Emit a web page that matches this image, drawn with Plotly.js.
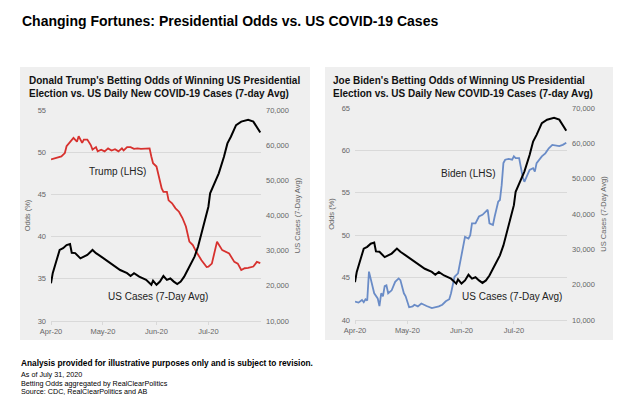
<!DOCTYPE html>
<html>
<head>
<meta charset="utf-8">
<script src="https://cdn.plot.ly/plotly-3.0.1.min.js"></script>
<style>
  html, body { margin: 0; padding: 0; background: #ffffff; }
  #chart { width: 624px; height: 396px; }
</style>
</head>
<body>
<div id="chart"></div>
<script>
// ---- Data ----
const trumpDates = ['2020-04-01','2020-04-04','2020-04-07','2020-04-09','2020-04-10','2020-04-14','2020-04-16','2020-04-17','2020-04-19','2020-04-20','2020-04-22','2020-04-24','2020-04-25','2020-04-27','2020-04-28','2020-04-30','2020-05-02','2020-05-04','2020-05-06','2020-05-08','2020-05-10','2020-05-12','2020-05-13','2020-05-15','2020-05-17','2020-05-19','2020-05-21','2020-05-23','2020-05-28','2020-05-29','2020-05-30','2020-06-01','2020-06-02','2020-06-04','2020-06-05','2020-06-07','2020-06-08','2020-06-10','2020-06-12','2020-06-14','2020-06-16','2020-06-18','2020-06-20','2020-06-22','2020-06-24','2020-06-27','2020-06-30','2020-07-01','2020-07-03','2020-07-05','2020-07-06','2020-07-09','2020-07-11','2020-07-13','2020-07-16','2020-07-18','2020-07-20','2020-07-22','2020-07-24','2020-07-27','2020-07-29','2020-07-31'];
const trumpOdds = [49.15,49.3,49.5,49.9,50.7,51.7,51.25,51.9,51.1,51.5,51.5,50.85,50.3,50.6,50.1,50.3,50.1,50.45,50.2,50.35,50.1,50.45,50.2,50.6,50.6,50.4,50.45,50.4,50.45,49.5,48.7,48.3,47.3,45.7,45.3,45.3,44.3,43.95,43.35,42.95,42.2,41.2,39.4,39.0,38.2,37.2,36.4,36.45,36.8,38.8,39.4,38.4,38.2,38.0,37.0,36.8,36.05,36.25,36.3,36.45,37.0,36.85];

const caseDates = ['2020-04-01','2020-04-02','2020-04-04','2020-04-06','2020-04-08','2020-04-10','2020-04-12','2020-04-13','2020-04-15','2020-04-18','2020-04-20','2020-04-22','2020-04-25','2020-04-27','2020-04-30','2020-05-04','2020-05-07','2020-05-11','2020-05-15','2020-05-17','2020-05-19','2020-05-22','2020-05-26','2020-05-29','2020-05-30','2020-06-01','2020-06-03','2020-06-05','2020-06-07','2020-06-09','2020-06-11','2020-06-13','2020-06-15','2020-06-17','2020-06-19','2020-06-21','2020-06-23','2020-06-25','2020-06-28','2020-07-01','2020-07-02','2020-07-04','2020-07-07','2020-07-10','2020-07-12','2020-07-14','2020-07-17','2020-07-20','2020-07-24','2020-07-27','2020-07-29','2020-07-31'];
const usCases = [20700,23600,26900,30200,30700,31600,31900,29400,29300,27800,28300,28800,30200,29300,28300,26900,25900,24500,23600,22800,23600,22600,21700,20300,21500,20300,21200,22800,21700,22100,21200,20500,21200,22600,24500,26200,28300,31100,36800,42500,46300,48700,52000,56700,60500,62400,65700,66700,67200,66700,65300,63600];

const bidenDates = ['2020-04-01','2020-04-03','2020-04-05','2020-04-06','2020-04-07','2020-04-08','2020-04-09','2020-04-10','2020-04-11','2020-04-12','2020-04-14','2020-04-15','2020-04-16','2020-04-17','2020-04-18','2020-04-19','2020-04-20','2020-04-22','2020-04-24','2020-04-26','2020-04-27','2020-04-29','2020-04-30','2020-05-02','2020-05-04','2020-05-05','2020-05-07','2020-05-09','2020-05-12','2020-05-15','2020-05-19','2020-05-21','2020-05-23','2020-05-25','2020-05-26','2020-05-28','2020-05-30','2020-06-01','2020-06-03','2020-06-05','2020-06-06','2020-06-07','2020-06-09','2020-06-11','2020-06-13','2020-06-15','2020-06-16','2020-06-17','2020-06-19','2020-06-20','2020-06-22','2020-06-23','2020-06-24','2020-06-25','2020-06-26','2020-06-28','2020-06-30','2020-07-01','2020-07-02','2020-07-04','2020-07-05','2020-07-06','2020-07-07','2020-07-08','2020-07-10','2020-07-12','2020-07-13','2020-07-14','2020-07-17','2020-07-19','2020-07-21','2020-07-23','2020-07-27','2020-07-29','2020-07-31'];
const bidenOdds = [42.16,42.05,42.36,42.1,42.44,42.3,45.7,44.9,43.9,43.15,42.55,41.65,43.15,42.8,44.0,44.1,43.15,43.5,44.5,44.9,44.7,43.15,42.8,41.5,41.6,41.8,41.6,41.95,41.65,41.4,41.6,41.8,42.2,42.45,43.15,45.1,45.5,47.5,49.8,49.6,50.0,51.4,51.4,52.2,52.4,52.8,53.0,51.4,51.2,52.2,53.95,54.15,55.9,58.5,58.9,59.0,58.9,59.3,59.1,59.1,57.9,56.9,56.3,56.7,57.7,57.9,57.5,58.5,59.3,59.65,60.25,60.65,60.5,60.65,60.9];

const xRange = ['2020-04-01', '2020-07-31 10:00'];
const FONT = 'Liberation Sans, Arial, sans-serif';
const tickFont = {family: FONT, size: 7.5, color: '#666666'};
const grid = '#d9d9d9';

const traces = [
  {x: caseDates, y: usCases, xaxis: 'x', yaxis: 'y2', type: 'scatter', mode: 'lines',
   line: {color: '#000000', width: 2}, hoverinfo: 'skip'},
  {x: trumpDates, y: trumpOdds, xaxis: 'x', yaxis: 'y', type: 'scatter', mode: 'lines',
   line: {color: '#d7312e', width: 1.8}, hoverinfo: 'skip'},
  {x: caseDates, y: usCases, xaxis: 'x2', yaxis: 'y4', type: 'scatter', mode: 'lines',
   line: {color: '#000000', width: 2}, hoverinfo: 'skip'},
  {x: bidenDates, y: bidenOdds, xaxis: 'x2', yaxis: 'y3', type: 'scatter', mode: 'lines',
   line: {color: '#6a8cc7', width: 1.8}, hoverinfo: 'skip'}
];

function xAx(domain, anchor) {
  return {domain: domain, anchor: anchor, type: 'date', range: xRange,
    tick0: '2020-04-01', dtick: 'M1', tickformat: '%b-%y',
    showgrid: false, zeroline: false, showline: true, linecolor: grid, linewidth: 1,
    ticks: 'outside', ticklen: 3, tickcolor: grid, tickfont: tickFont};
}
function yLeft(domain, anchor, range, title) {
  return {domain: domain, anchor: anchor, range: range, dtick: 5,
    showgrid: true, gridcolor: grid, gridwidth: 1, zeroline: false, showline: false,
    ticks: '', tickfont: tickFont, ticklabelstandoff: 4,
    title: {text: title, font: {family: FONT, size: 7.5, color: '#666666'}, standoff: 6}};
}
function yRight(domain, anchor, overlay) {
  return {domain: domain, anchor: anchor, overlaying: overlay, side: 'right',
    range: [10000, 70000], dtick: 10000, tickformat: ',d',
    showgrid: false, zeroline: false, showline: false, ticks: '',
    tickfont: tickFont, ticklabelstandoff: 4,
    title: {text: 'US Cases (7-Day Avg)', font: {family: FONT, size: 7.5, color: '#666666'}, standoff: 6}};
}

const ann = (text, x, y, opts) => Object.assign({text: text, xref: 'paper', yref: 'paper',
  x: x / 624, y: 1 - y / 396, showarrow: false, font: {family: FONT, size: 10, color: '#222222'}}, opts || {});

const layout = {
  width: 624, height: 396,
  margin: {l: 0, r: 0, t: 0, b: 0},
  paper_bgcolor: '#ffffff', plot_bgcolor: 'rgba(0,0,0,0)',
  showlegend: false,
  xaxis: xAx([51/624, 261/624], 'y'),
  yaxis: yLeft([1 - 321/396, 1 - 110/396], 'x', [30, 55], 'Odds (%)'),
  yaxis2: yRight([1 - 321/396, 1 - 110/396], 'x', 'y'),
  xaxis2: xAx([355/624, 567/624], 'y3'),
  yaxis3: yLeft([1 - 320/396, 1 - 108/396], 'x2', [40, 65], 'Odds (%)'),
  yaxis4: yRight([1 - 320/396, 1 - 108/396], 'x2', 'y3'),
  shapes: [
    {type: 'rect', xref: 'paper', yref: 'paper', layer: 'below',
     x0: 20/624, x1: 310/624, y0: 1 - 340/396, y1: 1 - 67/396,
     fillcolor: '#efefef', line: {width: 0}},
    {type: 'rect', xref: 'paper', yref: 'paper', layer: 'below',
     x0: 325/624, x1: 613/624, y0: 1 - 340/396, y1: 1 - 67/396,
     fillcolor: '#efefef', line: {width: 0}}
  ],
  annotations: [
    ann('<b>Changing Fortunes: Presidential Odds vs. US COVID-19 Cases</b>', 20, 21,
        {xanchor: 'left', yanchor: 'middle', font: {family: FONT, size: 14, color: '#000000'}}),
    ann("<b>Donald Trump's Betting Odds of Winning US Presidential<br>Election vs. US Daily New COVID-19 Cases (7-day Avg)</b>", 27, 87,
        {xanchor: 'left', yanchor: 'middle', align: 'left', font: {family: FONT, size: 10, color: '#111111'}}),
    ann("<b>Joe Biden's Betting Odds of Winning US Presidential<br>Election vs. US Daily New COVID-19 Cases (7-day Avg)</b>", 331, 87,
        {xanchor: 'left', yanchor: 'middle', align: 'left', font: {family: FONT, size: 10, color: '#111111'}}),
    ann('Trump (LHS)', 117, 171, {xanchor: 'center', yanchor: 'middle'}),
    ann('US Cases (7-Day Avg)', 158, 296, {xanchor: 'center', yanchor: 'middle'}),
    ann('Biden (LHS)', 468, 173, {xanchor: 'center', yanchor: 'middle'}),
    ann('US Cases (7-Day Avg)', 512, 296, {xanchor: 'center', yanchor: 'middle'}),
    ann('<b>Analysis provided for illustrative purposes only and is subject to revision.</b>', 19, 363,
        {xanchor: 'left', yanchor: 'middle', font: {family: FONT, size: 8.3, color: '#000000'}}),
    ann('As of July 31, 2020', 19, 374,
        {xanchor: 'left', yanchor: 'middle', font: {family: FONT, size: 7.2, color: '#000000'}}),
    ann('Betting Odds aggregated by RealClearPolitics', 19, 383,
        {xanchor: 'left', yanchor: 'middle', font: {family: FONT, size: 7.2, color: '#000000'}}),
    ann('Source: CDC, RealClearPolitics and AB', 19, 391,
        {xanchor: 'left', yanchor: 'middle', font: {family: FONT, size: 7.2, color: '#000000'}})
  ]
};

Plotly.newPlot('chart', traces, layout, {staticPlot: true, displayModeBar: false});
</script>
</body>
</html>
